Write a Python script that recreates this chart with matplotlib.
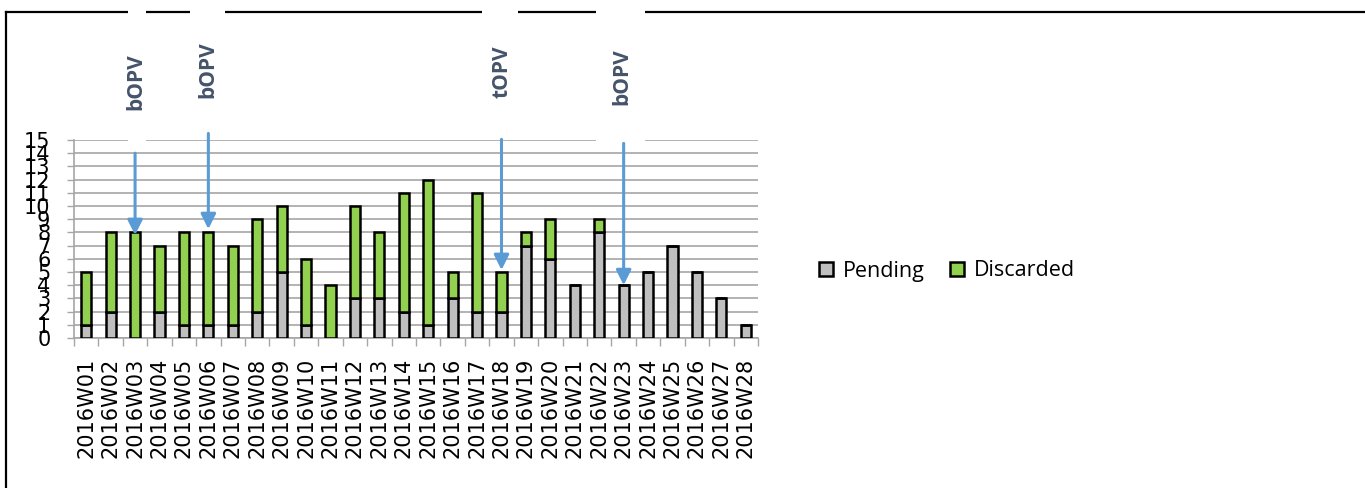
import matplotlib
matplotlib.use("Agg")
import matplotlib.pyplot as plt
from matplotlib.patches import Rectangle
from matplotlib.lines import Line2D
import numpy as np

weeks = ["2016W%02d" % i for i in range(1, 29)]
pending = [1, 2, 0, 2, 1, 1, 1, 2, 5, 1, 0, 3, 3, 2, 1, 3, 2, 2, 7, 6, 4, 8, 4, 5, 7, 5, 3, 1]
discarded = [4, 6, 8, 5, 7, 7, 6, 7, 5, 5, 4, 7, 5, 9, 11, 2, 9, 3, 1, 3, 0, 1, 0, 0, 0, 0, 0, 0]
yticks = list(range(0, 16))

# annotations: (label, week index, arrow start value, arrow tip value, label centre in figure px)
annotations = [
    ("bOPV", 2, 14.0, 7.8, (136, 82)),
    ("bOPV", 5, 15.5, 8.25, (208, 70)),
    ("tOPV", 17, 15.05, 5.15, (502, 72)),
    ("bOPV", 22, 14.75, 4.0, (622, 77)),
]

W, H = 1365, 488
fig = plt.figure(figsize=(W / 100, H / 100), dpi=100)
ax = fig.add_axes([74 / W, 1 - 338 / H, (758 - 74) / W, (338 - 140) / H])

x = np.arange(len(weeks))
grey = "#BFBFBF"
green = "#92D050"
ax.bar(x, pending, width=0.42, color=grey, edgecolor="black", linewidth=1.8, label="Pending", zorder=3)
ax.bar(x, discarded, width=0.42, bottom=pending, color=green, edgecolor="black", linewidth=1.8,
       label="Discarded", zorder=3)

ax.set_xlim(-0.5, len(weeks) - 0.5)
ax.set_ylim(0, 15)
ax.set_yticks(yticks)
ax.set_yticklabels([str(v) for v in yticks], fontsize=15, family="DejaVu Sans")
ax.set_xticks(x)
ax.set_xticklabels(weeks, rotation=90, fontsize=15, family="DejaVu Sans")
ax.set_xticks(np.arange(-0.5, len(weeks), 1), minor=True)
ax.tick_params(axis="x", which="major", length=0, pad=14)
ax.tick_params(axis="x", which="minor", length=6, color="#A6A6A6", width=1)
ax.tick_params(axis="y", length=5, color="#A6A6A6", width=1, pad=12)
ax.yaxis.grid(True, color="#A6A6A6", linewidth=1.2)
ax.set_axisbelow(True)
for s in ["top", "right"]:
    ax.spines[s].set_visible(False)
for s in ["left", "bottom"]:
    ax.spines[s].set_color("#A6A6A6")
    ax.spines[s].set_linewidth(1.2)

for label, idx, y0, y1, (lx, ly) in annotations:
    ax.annotate("", xy=(idx, y1), xytext=(idx, y0), xycoords="data", textcoords="data",
                annotation_clip=False,
                arrowprops=dict(arrowstyle="-|>,head_length=0.9,head_width=0.45", color="#5B9BD5",
                                lw=2.2, shrinkA=0, shrinkB=0), zorder=5)

# outer frame
fig.add_artist(Line2D([6 / W, 1.0], [1 - 12 / H, 1 - 12 / H], color="black", lw=1.6, zorder=0.5))
fig.add_artist(Line2D([6 / W, 6 / W], [0.0, 1 - 12 / H], color="black", lw=1.6, zorder=0.5))

# white text boxes covering the frame
boxes = [(128, 146, 148), (190, 225, 130), (482, 518, 135), (596, 645, 142)]
for x0, x1, yb in boxes:
    fig.add_artist(Rectangle((x0 / W, 1 - yb / H), (x1 - x0) / W, yb / H, transform=fig.transFigure,
                             facecolor="white", edgecolor="none", zorder=1))

for label, idx, y0, y1, (lx, ly) in annotations:
    fig.text(lx / W, 1 - ly / H, label, rotation=90, ha="center", va="center", fontsize=15,
             fontweight="bold", family="Open Sans", color="#44546A", zorder=2)

leg = fig.legend(*ax.get_legend_handles_labels(), loc="center left", bbox_to_anchor=(808 / W, 1 - 271 / H),
                 ncol=2, frameon=False, borderpad=0, handlelength=0.65, handleheight=0.65,
                 handletextpad=0.45, columnspacing=1.2, prop={"family": "Open Sans", "size": 15.5})

fig.savefig("out.png", dpi=100)
